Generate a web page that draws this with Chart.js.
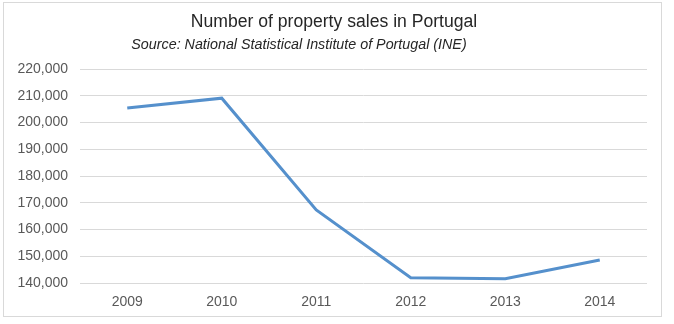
<!DOCTYPE html>
<html>
<head>
<meta charset="utf-8">
<script src="https://cdn.jsdelivr.net/npm/chart.js@4"></script>
<style>
  html, body { margin: 0; padding: 0; background: #ffffff; }
  #wrap { position: absolute; left: 3px; top: 2px; width: 657px; height: 313px; border: 1px solid #d9d9d9; background: #fff; }
  canvas { display: block; }
</style>
</head>
<body>
<div id="wrap"><canvas id="c" width="657" height="313"></canvas></div>
<script>
const titleText = "Number of property sales in Portugal";
const subtitleText = "Source: National Statistical Institute of Portugal (INE)";
const categories = ["2009", "2010", "2011", "2012", "2013", "2014"];
const sales = [205400, 209100, 167300, 142000, 141600, 148600];
const yMin = 140000, yMax = 220000, yStep = 10000;

const titlePlugin = {
  id: 'customTitles',
  afterDraw(chart) {
    const ctx = chart.ctx;
    ctx.save();
    ctx.textAlign = 'center';
    ctx.textBaseline = 'middle';
    ctx.fillStyle = '#262626';
    ctx.font = '17.6px "Liberation Sans", Arial, sans-serif';
    ctx.fillText(titleText, 330, 19);
    ctx.font = 'italic 14.3px "Liberation Sans", Arial, sans-serif';
    ctx.fillText(subtitleText, 295, 42);
    ctx.restore();
  }
};

new Chart(document.getElementById('c'), {
  type: 'line',
  data: {
    labels: categories,
    datasets: [{
      data: sales,
      borderColor: '#5590cc',
      borderWidth: 3,
      pointRadius: 0,
      pointHoverRadius: 0,
      tension: 0,
      fill: false
    }]
  },
  options: {
    responsive: false,
    animation: false,
    devicePixelRatio: 1,
    layout: { padding: { top: 66, right: 14, left: 0, bottom: 0 } },
    plugins: { legend: { display: false }, tooltip: { enabled: false }, title: { display: false } },
    scales: {
      x: {
        offset: true,
        grid: { display: false, drawTicks: false },
        border: { display: false },
        ticks: { color: '#595959', font: { family: '"Liberation Sans", Arial, sans-serif', size: 14 }, padding: 11, maxRotation: 0 },
        afterFit(scale) { scale.height = 33; }
      },
      y: {
        min: yMin, max: yMax,
        grid: { color: '#d9d9d9', lineWidth: 1, drawTicks: false },
        border: { display: false },
        ticks: {
          stepSize: yStep,
          color: '#595959',
          font: { family: '"Liberation Sans", Arial, sans-serif', size: 14 },
          padding: 12,
          callback: v => v.toLocaleString('en-US')
        },
        afterFit(scale) { scale.width = 76; }
      }
    }
  },
  plugins: [titlePlugin]
});
</script>
</body>
</html>
